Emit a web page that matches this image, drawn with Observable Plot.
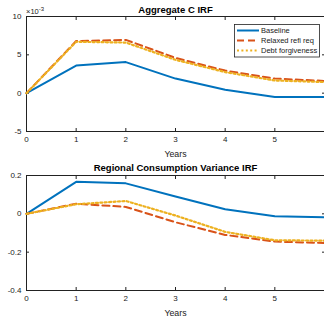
<!DOCTYPE html>
<html>
<head>
<meta charset="utf-8">
<script src="https://cdn.jsdelivr.net/npm/d3@7"></script>
<script src="https://cdn.jsdelivr.net/npm/@observablehq/plot@0.6"></script>
<style>
  html, body { margin: 0; padding: 0; background: #fff; }
  #chart { width: 324px; }
  #chart svg { display: block; }
</style>
</head>
<body>
<div id="chart"></div>
<script>
const years = [0, 1, 2, 3, 4, 5, 6];
const xTicks = [0, 1, 2, 3, 4, 5];
const seriesNames = ["Baseline", "Relaxed refi req", "Debt forgiveness"];
const seriesColors = ["#0072BD", "#D95319", "#EDB120"];
const seriesDash = ["none", "7,4", "2,2.4"];
const seriesWidth = [2, 2, 2.2];

const aggBaseline = [0, 3.6, 4.05, 1.9, 0.45, -0.5, -0.5];
const aggRelaxed  = [0, 6.8, 6.95, 4.6, 2.95, 1.9, 1.6];
const aggDebt     = [0, 6.7, 6.6, 4.35, 2.75, 1.65, 1.45];
const aggTicks = [-5, 0, 5, 10];

const regBaseline = [0, 0.167, 0.159, 0.09, 0.024, -0.013, -0.018];
const regRelaxed  = [0, 0.053, 0.036, -0.044, -0.11, -0.145, -0.152];
const regDebt     = [0, 0.05, 0.067, -0.009, -0.094, -0.138, -0.14];
const regTicks = [-0.4, -0.2, 0, 0.2];

const FONT = "Liberation Sans, Arial, Helvetica, sans-serif";
const INK = "#222";

function rows(arrs) {
  const out = [];
  arrs.forEach((arr, s) => arr.forEach((v, i) => out.push({x: years[i], y: v, s})));
  return out;
}

function panel({title, series, yTicks, height, marginTop, marginBottom, titleDy, yearsDy}) {
  const data = rows(series);
  const yMin = d3.min(yTicks), yMax = d3.max(yTicks);
  const lines = series.map((_, s) =>
    Plot.line(data.filter(d => d.s === s), {
      x: "x", y: "y",
      stroke: seriesColors[s],
      strokeWidth: seriesWidth[s],
      strokeDasharray: seriesDash[s],
      strokeLinejoin: "round"
    })
  );
  return Plot.plot({
    width: 324,
    height,
    marginTop,
    marginBottom,
    marginLeft: 26,
    marginRight: 0,
    style: {fontFamily: FONT, fontSize: "8px", color: INK, background: "#fff", overflow: "visible"},
    x: {domain: [0, 6]},
    y: {domain: [yMin, yMax]},
    marks: [
      Plot.axisX({anchor: "bottom", ticks: xTicks, tickSize: -3, tickPadding: 8, tickFormat: d => String(d), label: null}),
      Plot.axisX({anchor: "top", ticks: xTicks, tickSize: -3, tickFormat: () => "", label: null}),
      Plot.axisY({anchor: "left", ticks: yTicks, tickSize: -3, tickPadding: 8, tickFormat: d => String(d), label: null}),
      Plot.axisY({anchor: "right", ticks: yTicks, tickSize: -3, tickFormat: () => "", label: null}),
      Plot.ruleX([0], {stroke: INK, strokeWidth: 1}),
      Plot.ruleY([yMin, yMax], {stroke: INK, strokeWidth: 1}),
      ...lines,
      Plot.text([title], {frameAnchor: "top", dy: titleDy, lineAnchor: "middle", fontWeight: "bold", fontSize: 9.5, fill: "#000"}),
      Plot.text(["Years"], {frameAnchor: "bottom", dy: yearsDy, lineAnchor: "middle", fontSize: 8.8, fill: INK})
    ]
  });
}

const topPanel = panel({
  title: "Aggregate C IRF",
  series: [aggBaseline, aggRelaxed, aggDebt],
  yTicks: aggTicks,
  height: 160, marginTop: 16, marginBottom: 29, titleDy: -7, yearsDy: 23
});
const bottomPanel = panel({
  title: "Regional Consumption Variance IRF",
  series: [regBaseline, regRelaxed, regDebt],
  yTicks: regTicks,
  height: 161, marginTop: 15, marginBottom: 31, titleDy: -7.7, yearsDy: 23
});

// exponent label and legend in the top panel
const svgTop = d3.select(topPanel);
const ex = svgTop.append("text").attr("x", 26).attr("y", 14)
  .style("text-anchor", "start")
  .style("font-family", FONT).style("font-size", "7.5px").style("fill", INK);
ex.append("tspan").text("\u00d710");
ex.append("tspan").attr("dy", -3).style("font-size", "6px").text("-3");

const lg = svgTop.append("g").style("font-family", FONT).style("font-size", "7.5px");
lg.append("rect").attr("x", 234.5).attr("y", 24.5).attr("width", 85).attr("height", 32.5)
  .style("fill", "#fff").style("stroke", INK).style("stroke-width", "0.8px");
seriesNames.forEach((name, i) => {
  const yy = 30.5 + i * 10;
  lg.append("line").attr("x1", 237).attr("x2", 259).attr("y1", yy).attr("y2", yy)
    .style("stroke", seriesColors[i]).style("stroke-width", seriesWidth[i] + "px")
    .style("stroke-dasharray", seriesDash[i]);
  lg.append("text").attr("x", 261).attr("y", yy).attr("dy", "0.32em")
    .style("text-anchor", "start").style("fill", INK).text(name);
});

document.getElementById("chart").append(topPanel, bottomPanel);
</script>
</body>
</html>
